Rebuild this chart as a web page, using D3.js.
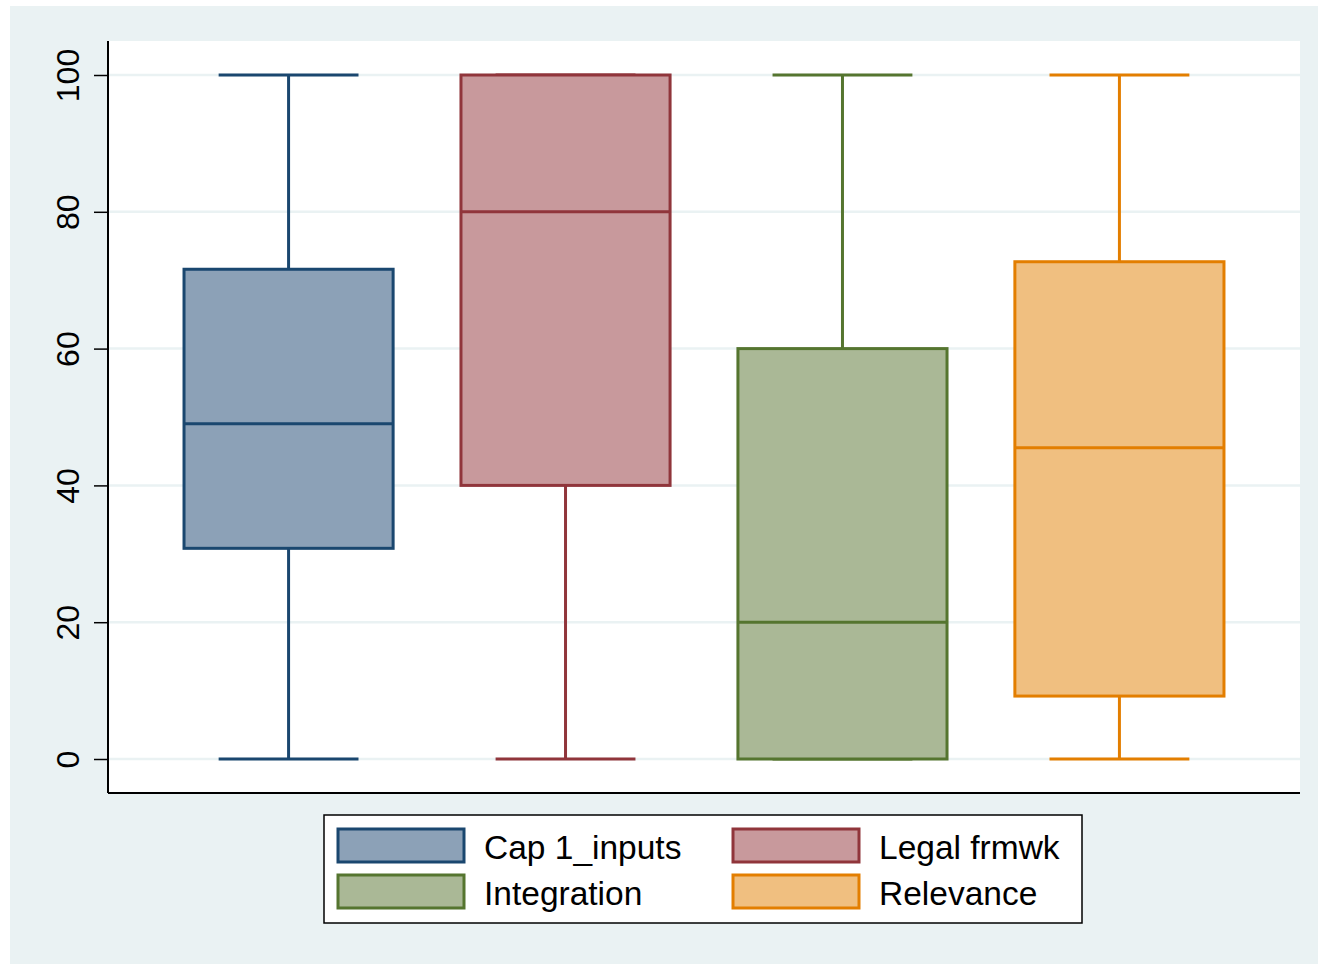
<!DOCTYPE html>
<html>
<head>
<meta charset="utf-8">
<script src="https://cdn.jsdelivr.net/npm/d3@7"></script>
<style>
  body { margin: 0; background: #fff; }
  text { font-family: "Liberation Sans", Arial, sans-serif; }
</style>
</head>
<body>
<div class="chart"></div>
<script>
// box summaries
var categories = [`Cap 1_inputs`, `Legal frmwk`, `Integration`, `Relevance`];
var mins    = [0, 0, 0, 0];
var q1s     = [30.8, 40, 0, 9.2];
var medians = [49, 80, 20, 45.5];
var q3s     = [71.6, 100, 60, 72.7];
var maxs    = [100, 100, 100, 100];
var yTicks  = [0, 20, 40, 60, 80, 100];

var strokes = [`#1a476f`, `#90353b`, `#55752f`, `#e37e00`];
var fills   = [`#8ca1b7`, `#c8999c`, `#aab896`, `#f0bf80`];

var fullWidth = 1318, fullHeight = 964;
var margin = {top: 41, right: 18, bottom: 171, left: 108};
var width = fullWidth - margin.left - margin.right;
var height = fullHeight - margin.top - margin.bottom;

var root = d3.select(`.chart`)
    .append(`svg`)
    .attr(`width`, fullWidth)
    .attr(`height`, fullHeight);

// outer graph region
root.append(`rect`)
    .attr(`x`, 10).attr(`y`, 6)
    .attr(`width`, fullWidth - 10).attr(`height`, fullHeight - 6)
    .attr(`fill`, `#eaf2f3`);

var svg = root.append(`g`)
    .attr(`transform`, `translate(${margin.left},${margin.top})`);

svg.append(`rect`)
    .attr(`width`, width).attr(`height`, height)
    .attr(`fill`, `#fff`);

var yScale = d3.scaleLinear()
    .domain([0, 100])
    .range([718, 34]);

var xScale = d3.scaleBand()
    .domain(categories)
    .range([0, width])
    .paddingInner(0)
    .paddingOuter(0.152);

var step = xScale.step();
var boxW = step * 0.755;
var capW = step * 0.505;

// grid
svg.selectAll(`.grid`)
    .data(yTicks)
    .enter()
    .append(`line`)
    .attr(`x1`, 0).attr(`x2`, width)
    .attr(`y1`, d => yScale(d)).attr(`y2`, d => yScale(d))
    .attr(`stroke`, `#eaf2f3`)
    .attr(`stroke-width`, 2.5);

// y axis
var yAxis = d3.axisLeft(yScale)
    .tickValues(yTicks)
    .tickSize(14)
    .tickPadding(24);

var yg = svg.append(`g`).call(yAxis);
yg.select(`.domain`).remove();
yg.selectAll(`.tick line`).attr(`stroke`, `#000`).attr(`stroke-width`, 1.5);
yg.selectAll(`.tick text`)
    .attr(`transform`, `rotate(-90)`)
    .attr(`x`, 0)
    .attr(`y`, -40)
    .attr(`dy`, `0.35em`)
    .style(`text-anchor`, `middle`)
    .style(`font-size`, `32px`)
    .style(`font-family`, `"Liberation Sans", Arial, sans-serif`)
    .attr(`fill`, `#000`);

// axis lines
svg.append(`line`)
    .attr(`x1`, 0).attr(`x2`, 0)
    .attr(`y1`, 0).attr(`y2`, height)
    .attr(`stroke`, `#000`).attr(`stroke-width`, 2);
svg.append(`line`)
    .attr(`x1`, 0).attr(`x2`, width)
    .attr(`y1`, height).attr(`y2`, height)
    .attr(`stroke`, `#000`).attr(`stroke-width`, 2);

var boxes = categories.map((c, i) => ({
    name: c, min: mins[i], q1: q1s[i], med: medians[i], q3: q3s[i], max: maxs[i],
    stroke: strokes[i], fill: fills[i]
}));

var g = svg.selectAll(`.box`)
    .data(boxes)
    .enter()
    .append(`g`)
    .attr(`transform`, d => `translate(${xScale(d.name) + step / 2},0)`);

// whiskers
g.append(`line`)
    .attr(`x1`, 0).attr(`x2`, 0)
    .attr(`y1`, d => yScale(d.max)).attr(`y2`, d => yScale(d.q3))
    .attr(`stroke`, d => d.stroke).attr(`stroke-width`, 3);
g.append(`line`)
    .attr(`x1`, 0).attr(`x2`, 0)
    .attr(`y1`, d => yScale(d.q1)).attr(`y2`, d => yScale(d.min))
    .attr(`stroke`, d => d.stroke).attr(`stroke-width`, 3);
g.append(`line`)
    .attr(`x1`, -capW / 2).attr(`x2`, capW / 2)
    .attr(`y1`, d => yScale(d.max)).attr(`y2`, d => yScale(d.max))
    .attr(`stroke`, d => d.stroke).attr(`stroke-width`, 3);
g.append(`line`)
    .attr(`x1`, -capW / 2).attr(`x2`, capW / 2)
    .attr(`y1`, d => yScale(d.min)).attr(`y2`, d => yScale(d.min))
    .attr(`stroke`, d => d.stroke).attr(`stroke-width`, 3);

// box
g.append(`rect`)
    .attr(`x`, -boxW / 2).attr(`width`, boxW)
    .attr(`y`, d => yScale(d.q3))
    .attr(`height`, d => yScale(d.q1) - yScale(d.q3))
    .attr(`fill`, d => d.fill)
    .attr(`stroke`, d => d.stroke).attr(`stroke-width`, 3);
g.append(`line`)
    .attr(`x1`, -boxW / 2).attr(`x2`, boxW / 2)
    .attr(`y1`, d => yScale(d.med)).attr(`y2`, d => yScale(d.med))
    .attr(`stroke`, d => d.stroke).attr(`stroke-width`, 3);

// legend
var legend = root.append(`g`).attr(`transform`, `translate(324,815)`);
legend.append(`rect`)
    .attr(`width`, 758).attr(`height`, 108)
    .attr(`fill`, `#fff`)
    .attr(`stroke`, `#000`).attr(`stroke-width`, 1.5);

var items = legend.selectAll(`.item`)
    .data(boxes)
    .enter()
    .append(`g`)
    .attr(`transform`, (d, i) => `translate(${14 + (i % 2) * 395},${14 + Math.floor(i / 2) * 46})`);

items.append(`rect`)
    .attr(`width`, 126).attr(`height`, 33)
    .attr(`fill`, d => d.fill)
    .attr(`stroke`, d => d.stroke).attr(`stroke-width`, 3);
items.append(`text`)
    .attr(`x`, 146).attr(`y`, 18)
    .attr(`dy`, `0.35em`)
    .style(`font-size`, `33.5px`)
    .attr(`fill`, `#000`)
    .text(d => d.name);
</script>
</body>
</html>
